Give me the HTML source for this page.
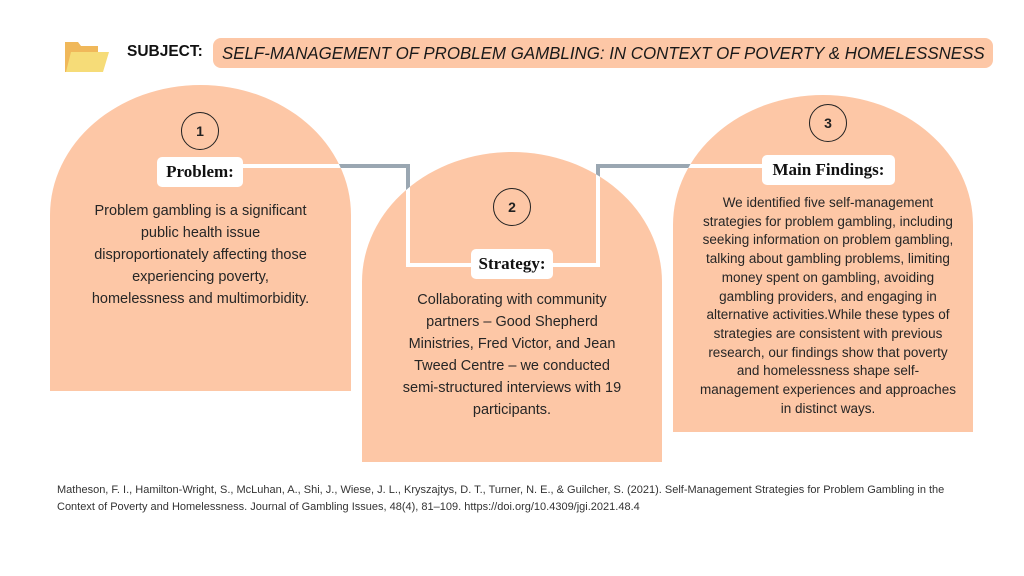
<!DOCTYPE html>
<html><head><meta charset="utf-8"><style>
body{margin:0;width:1024px;height:576px;background:#fff;position:relative;overflow:hidden;font-family:"Liberation Sans",sans-serif;color:#222}
.a{position:absolute}
.t{position:absolute;text-align:center;font-size:14.5px;line-height:22px;color:#262626}
.lbl{position:absolute;background:#fff;border-radius:5px;font-family:"Liberation Serif",serif;font-weight:bold;font-size:17px;text-align:center;line-height:30px;color:#111}
.num{position:absolute;width:36px;height:36px;border:1.5px solid #222;border-radius:50%;text-align:center;line-height:36px;font-weight:bold;font-size:14px;box-sizing:content-box}
</style></head><body>
<svg class="a" style="left:0;top:0" width="1024" height="576">
<defs><clipPath id="c">
<path d="M50,391 L50,215 A150.5,130 0 0 1 351,215 L351,391 Z"/>
<path d="M362,462 L362,282 A150,130 0 0 1 662,282 L662,462 Z"/>
<path d="M673,432 L673,225 A150,130 0 0 1 973,225 L973,432 Z"/>
</clipPath></defs>
<path d="M50,391 L50,215 A150.5,130 0 0 1 351,215 L351,391 Z" fill="#fdc7a6"/>
<path d="M362,462 L362,282 A150,130 0 0 1 662,282 L662,462 Z" fill="#fdc7a6"/>
<path d="M673,432 L673,225 A150,130 0 0 1 973,225 L973,432 Z" fill="#fdc7a6"/>
<path d="M240,166 L408,166 L408,265 L598,265 L598,166 L765,166" fill="none" stroke="#9aa7b2" stroke-width="4"/>
<path d="M240,166 L408,166 L408,265 L598,265 L598,166 L765,166" fill="none" stroke="#fff" stroke-width="4" clip-path="url(#c)"/>
<path d="M65,42 L78,42 L81,46 L98,46 L98,72 L65,72 Z" fill="#f0b85a"/>
<path d="M66,72 L71,52 L109,52 L103,72 Z" fill="#f6dc78"/>
</svg>
<div class="a" style="left:127px;top:43px;font-weight:bold;font-size:15.5px;color:#111">SUBJECT:</div>
<div class="a" style="left:213px;top:38px;width:780px;height:30px;background:#fdc7a6;border-radius:8px"></div>
<div class="a" style="left:222px;top:38px;width:1000px;height:30px;font-style:italic;font-size:17.5px;line-height:30px;white-space:nowrap;color:#1a1a1a;transform:scaleX(0.965);transform-origin:0 0">SELF-MANAGEMENT OF PROBLEM GAMBLING: IN CONTEXT OF POVERTY &amp; HOMELESSNESS</div>
<div class="num" style="left:181px;top:112px">1</div>
<div class="num" style="left:493px;top:188px">2</div>
<div class="num" style="left:809px;top:104px">3</div>
<div class="lbl" style="left:157px;top:157px;width:86px">Problem:</div>
<div class="lbl" style="left:471px;top:249px;width:82px">Strategy:</div>
<div class="lbl" style="left:762px;top:155px;width:133px">Main Findings:</div>
<div class="t" style="left:50px;top:200px;width:301px">Problem gambling is a significant<br>public health issue<br>disproportionately affecting those<br>experiencing poverty,<br>homelessness and multimorbidity.</div>
<div class="t" style="left:362px;top:289px;width:300px">Collaborating with community<br>partners – Good Shepherd<br>Ministries, Fred Victor, and Jean<br>Tweed Centre – we conducted<br>semi-structured interviews with 19<br>participants.</div>
<div class="t" style="left:668px;top:194px;width:320px;font-size:13.5px;line-height:18.7px">We identified five self-management<br>strategies for problem gambling, including<br>seeking information on problem gambling,<br>talking about gambling problems, limiting<br>money spent on gambling, avoiding<br>gambling providers, and engaging in<br>alternative activities.While these types of<br>strategies are consistent with previous<br>research, our findings show that poverty<br>and homelessness shape self-<br>management experiences and approaches<br>in distinct ways.</div>
<div class="a" style="left:57px;top:482px;font-size:11px;line-height:16.5px;color:#333">Matheson, F. I., Hamilton-Wright, S., McLuhan, A., Shi, J., Wiese, J. L., Kryszajtys, D. T., Turner, N. E., &amp; Guilcher, S. (2021). Self-Management Strategies for Problem Gambling in the<br>Context of Poverty and Homelessness. Journal of Gambling Issues, 48(4), 81–109. https://doi.org/10.4309/jgi.2021.48.4</div>
</body></html>
